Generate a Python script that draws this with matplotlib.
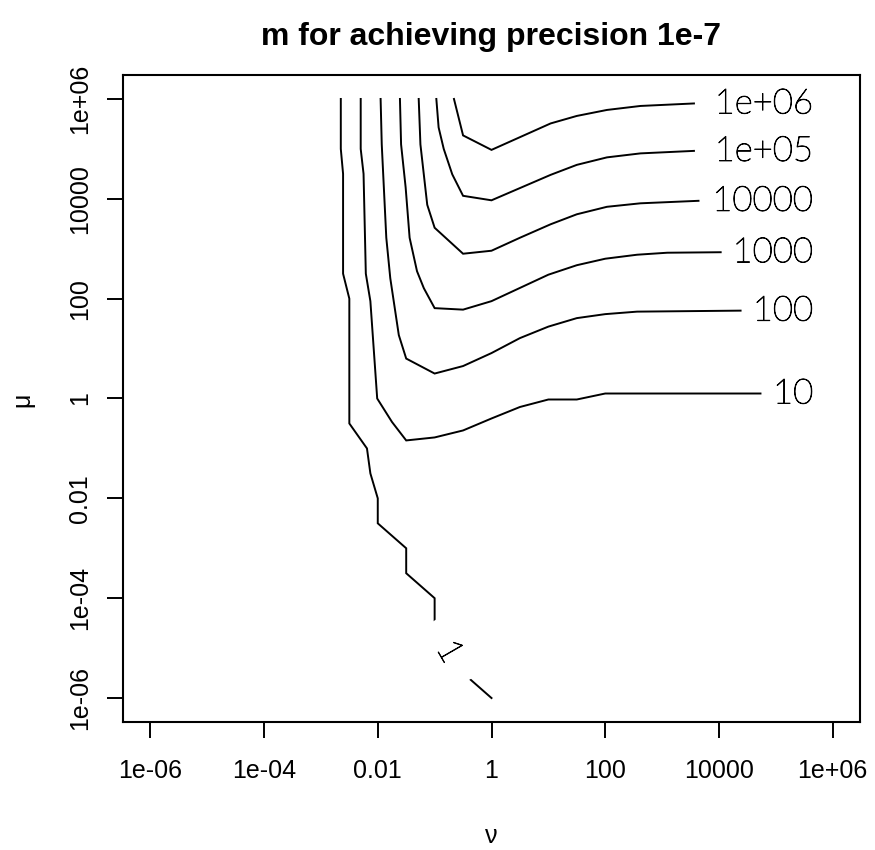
import numpy as np
import matplotlib
matplotlib.use("Agg")
import matplotlib.pyplot as plt
import matplotlib.patheffects as pe

# contour levels of m, with their polylines
# (stored as log10(nu), log10(mu))
levels = ["1", "10", "100", "1000", "10000", "1e+05", "1e+06"]

lnu_1 = [-2.65, -2.65, -2.61, -2.61, -2.50, -2.50, -2.19, -2.13, -2.0, -2.0,
         -1.5, -1.5, -1.0, -1.0, -0.5, 0.0]
lmu_1 = [6.0, 5.0, 4.5, 2.5, 2.0, -0.5, -1.0, -1.5, -2.0, -2.5,
         -3.0, -3.5, -4.0, -4.5, -5.5, -6.0]

lnu_10 = [-2.30, -2.30, -2.25, -2.21, -2.13, -2.01, -1.75, -1.5, -1.0, -0.5,
          0.0, 0.5, 1.0, 1.5, 2.0, 4.73]
lmu_10 = [6.0, 5.0, 4.5, 2.5, 1.95, 0.0, -0.47, -0.84, -0.78, -0.64,
          -0.40, -0.17, -0.02, -0.02, 0.10, 0.10]

lnu_100 = [-1.95, -1.93, -1.85, -1.78, -1.63, -1.5, -1.0, -0.5, 0.0, 0.5,
           1.0, 1.5, 2.0, 2.56, 4.38]
lmu_100 = [6.0, 5.09, 3.22, 2.41, 1.27, 0.80, 0.50, 0.65, 0.91, 1.21,
           1.44, 1.61, 1.69, 1.74, 1.76]

lnu_1000 = [-1.61, -1.59, -1.51, -1.44, -1.31, -1.19, -1.0, -0.5, 0.0, 1.0,
            1.5, 2.0, 2.56, 3.09, 4.03]
lmu_1000 = [6.0, 5.09, 4.23, 3.22, 2.55, 2.21, 1.81, 1.78, 1.95, 2.48,
            2.67, 2.80, 2.88, 2.92, 2.93]

lnu_1e4 = [-1.28, -1.25, -1.13, -1.0, -0.5, 0.0, 0.5, 1.04, 1.5, 2.03,
           2.62, 3.64]
lmu_1e4 = [6.0, 5.09, 3.88, 3.42, 2.90, 2.96, 3.22, 3.49, 3.69, 3.84,
           3.91, 3.96]

lnu_1e5 = [-0.97, -0.93, -0.84, -0.69, -0.5, 0.0, 1.04, 1.5, 2.03, 2.62, 3.56]
lmu_1e5 = [6.0, 5.43, 5.0, 4.49, 4.06, 3.97, 4.48, 4.68, 4.83, 4.91, 4.96]

lnu_1e6 = [-0.66, -0.5, 0.0, 1.04, 1.5, 2.03, 2.62, 3.56]
lmu_1e6 = [6.0, 5.27, 4.98, 5.51, 5.66, 5.78, 5.86, 5.91]

curves = [(lnu_1, lmu_1), (lnu_10, lmu_10), (lnu_100, lmu_100),
          (lnu_1000, lmu_1000), (lnu_1e4, lmu_1e4), (lnu_1e5, lmu_1e5),
          (lnu_1e6, lmu_1e6)]

tick_vals = [1e-6, 1e-4, 1e-2, 1, 1e2, 1e4, 1e6]
tick_labels = ["1e-06", "1e-04", "0.01", "1", "100", "10000", "1e+06"]

# label spot for the "1" contour (log10 nu, log10 mu)
one_label_at = (-0.74, -5.07)
label_right = 5.66

fig = plt.figure(figsize=(8.75, 8.5), dpi=100)
ax = fig.add_axes([123 / 875, 1 - 722 / 850, 737 / 875, 647 / 850])

for lnu, lmu in curves:
    ax.plot(10.0 ** np.array(lnu), 10.0 ** np.array(lmu),
            color="black", lw=1.4, solid_joinstyle="miter")

# thin stroked labels, close to R's vector-font contour labels
thin = [pe.withStroke(linewidth=0.7, foreground="black")]
label_font = dict(family=["Lato", "DejaVu Sans"], weight="light",
                  fontsize=25, color="black", path_effects=thin)
for lev, (lnu, lmu) in zip(levels[1:], curves[1:]):
    ax.text(10 ** label_right, 10 ** lmu[-1], lev, ha="right",
            va="center", **label_font)
ax.text(10 ** one_label_at[0], 10 ** one_label_at[1], levels[0],
        ha="center", va="center", rotation=-60, rotation_mode="anchor",
        bbox=dict(boxstyle="square,pad=0.7", fc="white", ec="none"),
        **label_font)

ax.set_xscale("log")
ax.set_yscale("log")
ax.set_xlim(10 ** -6.48, 10 ** 6.48)
ax.set_ylim(10 ** -6.48, 10 ** 6.48)
ax.minorticks_off()

tick_font = dict(family=["Liberation Sans", "DejaVu Sans"], fontsize=18)
ax.set_xticks(tick_vals)
ax.set_xticklabels(tick_labels, **tick_font)
ax.set_yticks(tick_vals)
ax.set_yticklabels(tick_labels, rotation=90, va="center", **tick_font)
ax.tick_params(direction="out", length=11.5, width=1.4, color="black")
ax.tick_params(axis="x", pad=15)
ax.tick_params(axis="y", pad=11)
for s in ax.spines.values():
    s.set_linewidth(1.5)

fig.text(491 / 875, 7 / 850, "\u03bd", ha="center", va="baseline",
         **tick_font)
fig.text(22 / 875, 1 - 400 / 850, "\u03bc", ha="center", va="center",
         rotation=90, **tick_font)
fig.text(491 / 875, 1 - 45 / 850, "m for achieving precision 1e-7",
         ha="center", va="baseline", fontsize=23, weight="bold",
         family=["Liberation Sans", "DejaVu Sans"])

fig.savefig("out.png", dpi=100)
